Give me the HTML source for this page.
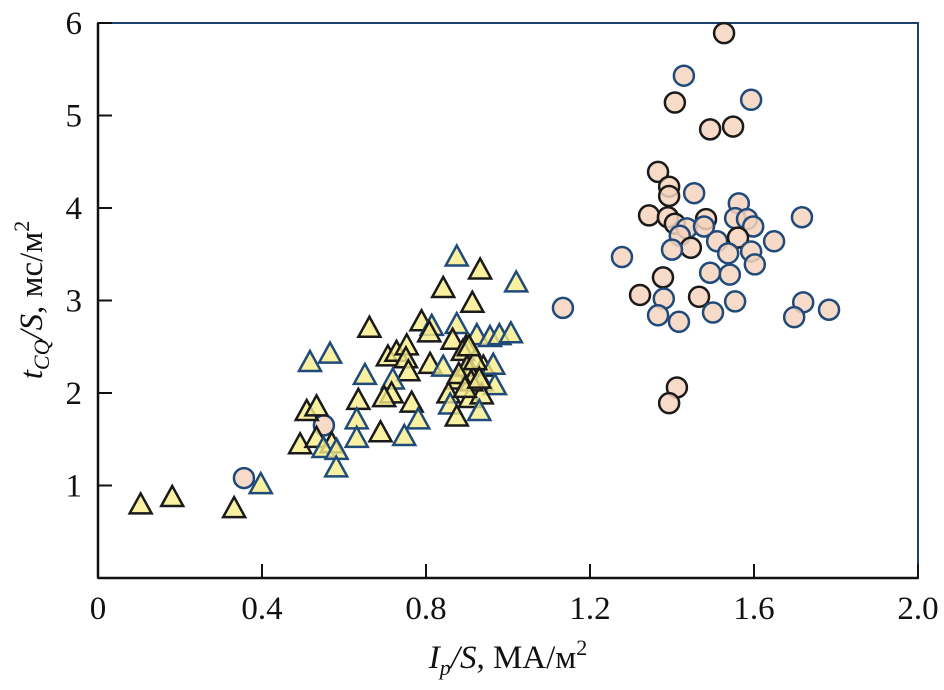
<!DOCTYPE html>
<html><head><meta charset="utf-8"><style>
html,body{margin:0;padding:0;background:#fff;}
svg{display:block;font-family:"Liberation Serif",serif;}
</style></head><body>
<svg width="944" height="690">
<g id="frame"></g><g id="marks"></g><g id="labels"></g>
<text x="508" y="668" font-size="33" text-anchor="middle" fill="#111" font-family="Liberation Serif, serif"><tspan font-style="italic">I</tspan><tspan font-style="italic" font-size="22" dy="7">p</tspan><tspan dy="-7" font-style="italic">/S</tspan>, МА/м<tspan font-size="22" dy="-13">2</tspan></text>
<text transform="translate(42,300) rotate(-90)" font-size="33" text-anchor="middle" fill="#111" font-family="Liberation Serif, serif"><tspan font-style="italic">t</tspan><tspan font-style="italic" font-size="22" dy="7">CQ</tspan><tspan dy="-7" font-style="italic">/S</tspan>, мс/м<tspan font-size="22" dy="-13">2</tspan></text>
</svg>
<script>
const xTicks=[0,0.4,0.8,1.2,1.6,2.0];
const xTickLabels=["0","0.4","0.8","1.2","1.6","2.0"];
const yTicks=[1,2,3,4,5,6];
const yTickLabels=["1","2","3","4","5","6"];
const triX=[.875,.932,1.02,.842,.913,.789,.814,.875,.808,.662,.924,.956,.979,1.007,.865,.898,.566,.517,.707,.728,.753,.751,.810,.842,.903,.940,.964,.907,.757,.651,.719,.875,.936,.968,.716,.698,.635,.765,.855,.907,.936,.859,.930,.875,.509,.533,.631,.781,.689,.631,.747,.493,.533,.570,.550,.582,.581,.397,.104,.181,.332,.89,.90,.91,.88,.92,.895,.93,.905];
const triY=[3.47,3.33,3.19,3.13,2.97,2.77,2.72,2.74,2.65,2.70,2.62,2.60,2.62,2.64,2.57,2.50,2.42,2.33,2.39,2.44,2.51,2.37,2.31,2.28,2.28,2.28,2.30,2.19,2.23,2.19,2.14,2.14,2.12,2.08,1.99,1.95,1.92,1.89,1.99,1.94,1.98,1.87,1.80,1.74,1.80,1.85,1.71,1.71,1.57,1.51,1.53,1.44,1.51,1.45,1.40,1.38,1.19,1.01,0.79,0.87,0.75,2.45,2.28,2.12,2.2,2.35,2.05,2.15,2.5];
const triEdge="BKBKKKBBKKBBBBKKBBKKKKKBKKBKKBBKBBKKKKKKKBBKKKBBKBBKKKBBBBKKKKKKKKKKK";
const cirX=[1.527,1.429,1.407,1.593,1.493,1.549,1.366,1.393,1.393,1.454,1.563,1.344,1.39,1.483,1.554,1.583,1.717,1.407,1.436,1.478,1.598,1.419,1.51,1.561,1.649,1.446,1.4,1.537,1.593,1.602,1.278,1.493,1.541,1.378,1.322,1.466,1.38,1.554,1.72,1.783,1.134,1.366,1.5,1.417,1.698,1.412,1.393,0.356,0.551];
const cirY=[5.89,5.43,5.14,5.17,4.85,4.88,4.39,4.23,4.13,4.16,4.05,3.92,3.9,3.88,3.89,3.88,3.9,3.83,3.78,3.8,3.8,3.7,3.64,3.68,3.64,3.57,3.55,3.51,3.53,3.39,3.47,3.3,3.28,3.25,3.06,3.04,3.02,2.99,2.98,2.9,2.92,2.84,2.87,2.77,2.82,2.06,1.89,1.08,1.65];
const cirEdge="KBKBKKKKKBBKKKBBBKBBBBBKBKBBBBBBBKKKBBBBBBBBBKKBB";

const L=98,R=918,T=23,B=578;
const sx=v=>L+(v-0)/2.0*(R-L);
const sy=v=>B-(v-0)/6*(B-T);
const NS="http://www.w3.org/2000/svg";
function mk(tag,attrs,parent){const e=document.createElementNS(NS,tag);for(const k in attrs)e.setAttribute(k,attrs[k]);parent.appendChild(e);return e;}
const frame=document.getElementById('frame'),marks=document.getElementById('marks'),labels=document.getElementById('labels');
const box=mk('rect',{x:L,y:T,width:R-L,height:B-T,fill:'none',stroke:'#1c3f6e','stroke-width':2},frame);


const xa=mk('line',{x1:L,y1:B,x2:R,y2:B,stroke:'#111','stroke-width':2.5},frame);


const ya=mk('line',{x1:L,y1:T,x2:L,y2:B,stroke:'#111','stroke-width':2.5},frame);


xTicks.forEach((v,i)=>{
  const t=mk('line',{x1:sx(v),y1:B,x2:sx(v),y2:B-14,stroke:'#111','stroke-width':2},frame);
  
  
  const tx=mk('text',{x:sx(v),y:619,'font-size':33,'text-anchor':'middle',fill:'#111','font-family':'Liberation Serif, serif'},labels);
  tx.textContent=xTickLabels[i];
  
  
});
yTicks.forEach((v,i)=>{
  const t=mk('line',{x1:L,y1:sy(v),x2:L+14,y2:sy(v),stroke:'#111','stroke-width':2},frame);
  
  
  const tx=mk('text',{x:82,y:sy(v)+11,'font-size':33,'text-anchor':'end',fill:'#111','font-family':'Liberation Serif, serif'},labels);
  tx.textContent=yTickLabels[i];
  
  
});
const col=c=>c==='B'?'#1f4a7a':'#1a1a1a';
for(let i=0;i<cirX.length;i++){
  const c=mk('circle',{cx:sx(cirX[i]),cy:sy(cirY[i]),r:10,fill:'#f6d4bd','fill-opacity':0.85,stroke:col(cirEdge[i]),'stroke-width':2.5},marks);
  
  
}
for(let i=0;i<triX.length;i++){
  const x=sx(triX[i]),y=sy(triY[i]);
  const p=mk('polygon',{points:`${x},${y-11.5} ${x+11},${y+8.5} ${x-11},${y+8.5}`,fill:'#f8ec8a','fill-opacity':0.8,stroke:col(triEdge[i]),'stroke-width':2.5},marks);
  
  
}
</script>
</body></html>
